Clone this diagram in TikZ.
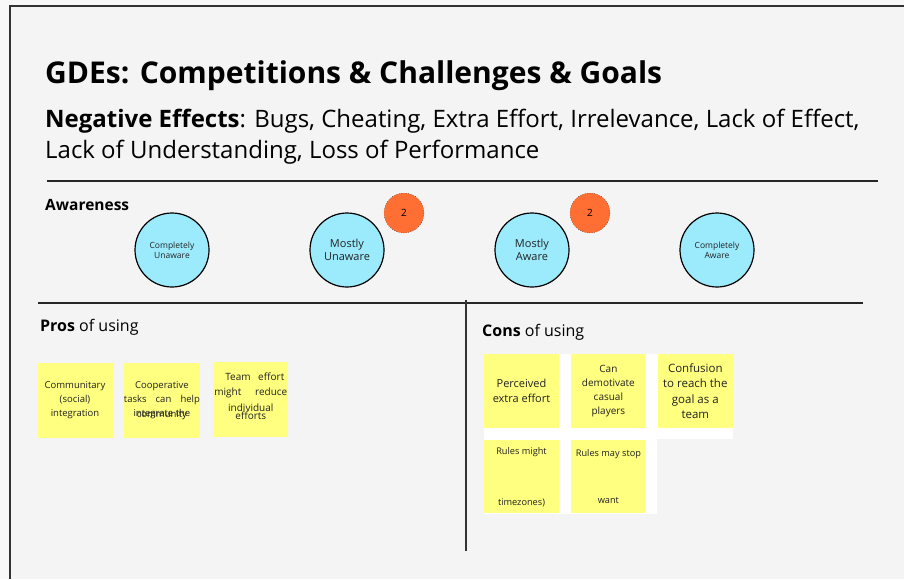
\documentclass[tikz,border=0pt]{standalone}
\usepackage{fontspec}
\setmainfont{Open Sans}
\usetikzlibrary{positioning}
\definecolor{paper}{HTML}{F4F4F4}
\definecolor{outer}{HTML}{F8F8F8}
\definecolor{ink}{HTML}{222222}
\definecolor{sky}{HTML}{9BEBFD}
\definecolor{note}{HTML}{FFFF80}
\definecolor{badgeor}{HTML}{FF6E33}
\newcommand{\fs}[2]{\fontsize{#1}{#2}\selectfont}

\begin{document}
\begin{tikzpicture}[x=1pt, y=-1pt,
  aware/.style = {draw, circle, line width=1.2pt, fill=sky, minimum size=74pt, inner sep=0pt, align=center, text=ink},
  badge/.style = {draw, circle, dotted, fill=badgeor, minimum size=40pt, inner sep=0pt, font=\fs{10}{10}},
  sticky/.style = {fill=note, minimum width=75pt, minimum height=75pt, inner sep=0pt, align=center, text=ink},
  label/.style = {anchor=base west, inner sep=0pt},
  rule/.style = {line width=1.2pt, draw=black!85}]
\useasboundingbox (0,0) rectangle (904,579);
\fill[outer] (0,0) rectangle (904,579);
\fill[paper] (10,6) rectangle (904,579);
\draw[line width=1.5pt, draw=black!80] (10,579) -- (10,6) -- (904,6);

% heading
\node[label, font=\bfseries\fs{30}{30}] (title) at (45,83) {GDEs: Competitions \& Challenges \& Goals};
\node[label, font=\fs{24}{24}] (neg) at (45,127) {\textbf{Negative Effects}: Bugs, Cheating, Extra Effort, Irrelevance, Lack of Effect,};
\node[label, font=\fs{24}{24}] (neg2) at (45,158) {Lack of Understanding, Loss of Performance};
\coordinate (h1) at (47,181);
\coordinate (h2) at (878,181);
\draw[rule] (h1) -- (h2);

% awareness
\node[label, font=\bfseries\fs{15.5}{15.5}] (aw) at (45,210) {Awareness};
\node[aware, font=\fs{8.5}{10}] (a) at (172,250) {Completely\\Unaware};
\node[aware, font=\fs{11}{13}] (a2) at (347,250) {Mostly\\Unaware};
\node[aware, font=\fs{11}{13}] (a3) at (532,250) {Mostly\\Aware};
\node[aware, font=\fs{8.5}{10}] (a4) at (717,250) {Completely\\Aware};
\node[badge] (b) at (404,213) {2};
\node[badge] (b2) at (590,213) {2};

% split
\coordinate (s1) at (38,303);
\coordinate (s2) at (863,303);
\coordinate (v1) at (466,300);
\coordinate (v2) at (466,551);
\draw[rule] (s1) -- (s2);
\draw[line width=1.2pt, draw=black!80] (v1) -- (v2);

% pros
\node[label, font=\fs{16}{16}] (pros) at (40,331) {\textbf{Pros} of using};
\node[sticky, font=\fs{9.5}{14}] (p) at (75,400.5) {Communitary\\(social)\\integration};
\node[sticky, font=\fs{9.5}{14}, right=11pt of p] (p2) {Cooperative\\\makebox[76pt][s]{tasks can help}\\integrate the};
\node[text=ink, font=\fs{9.5}{14}] (p2x) at ([yshift=-15pt]p2.center) {community};
\node[sticky, font=\fs{10}{15.5}, right=13pt of p2, yshift=1pt] (p3) {\hspace*{8pt}\makebox[59pt][s]{Team effort}\\\makebox[73pt][s]{might reduce}\\individual\\\mbox{}};
\node[text=ink, font=\fs{10}{15.5}] (p3x) at ([yshift=-16.5pt]p3.center) {efforts};

% cons
\node[label, font=\fs{16}{16}] (cons) at (482,336) {\textbf{Cons} of using};
\fill[white] (484,354) rectangle (733,439);
\fill[white] (484,439) rectangle (657,514);
\node[sticky, minimum height=74pt, font=\fs{11}{15}] (c) at (521.5,391) {Perceived\\extra effort};
\node[sticky, minimum height=74pt, minimum width=74pt, font=\fs{10}{14}, right=12pt of c] (c2) {Can\\demotivate\\casual\\players};
\node[sticky, minimum height=74pt, font=\fs{11.5}{15.3}, right=12pt of c2] (c3) {Confusion\\to reach the\\goal as a\\team};
\node[sticky, minimum height=73pt, font=\fs{9.2}{9}, below=12pt of c] (c4) {Rules might\\[42pt]timezones)};
\node[sticky, minimum height=73pt, minimum width=74pt, font=\fs{9.2}{9}, right=12pt of c4] (c5) {Rules may stop\\[38pt]want};
\end{tikzpicture}
\end{document}
